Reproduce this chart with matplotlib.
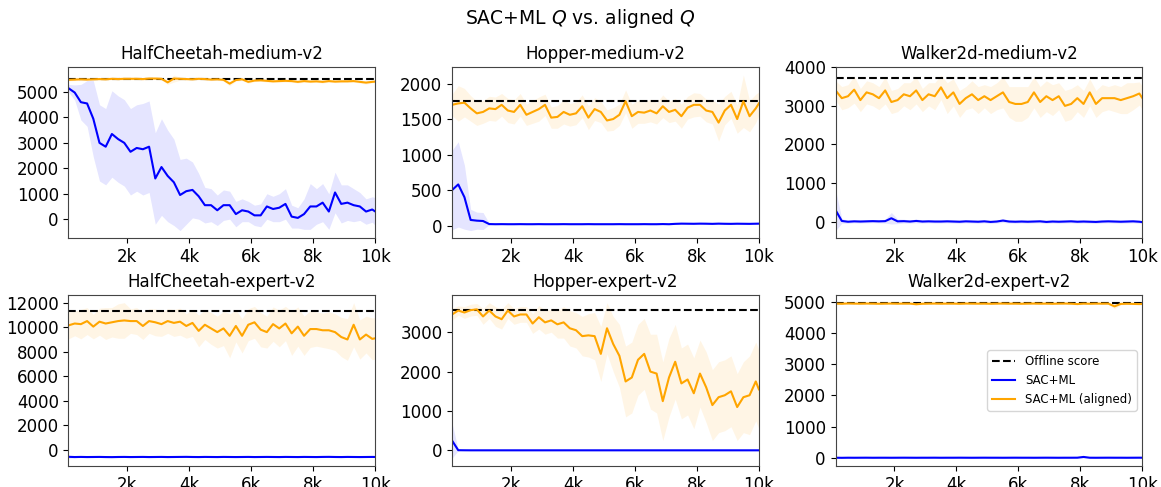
import numpy as np
import matplotlib
matplotlib.use("Agg")
import matplotlib.pyplot as plt

# evaluation steps (every 200 steps, plus the last one)
steps = np.append(np.arange(100, 10000, 200), 10000)

titles = ["HalfCheetah-medium-v2", "Hopper-medium-v2", "Walker2d-medium-v2",
          "HalfCheetah-expert-v2", "Hopper-expert-v2", "Walker2d-expert-v2"]
offline_scores = [5500, 1750, 3720, 11350, 3570, 4990]
tick_pos = [2000, 4000, 6000, 8000, 10000]
tick_labels = ["2k", "4k", "6k", "8k", "10k"]
y_ticks = [[0, 1000, 2000, 3000, 4000, 5000],
           [0, 500, 1000, 1500, 2000],
           [0, 1000, 2000, 3000, 4000],
           [0, 2000, 4000, 6000, 8000, 10000, 12000],
           [0, 1000, 2000, 3000],
           [0, 1000, 2000, 3000, 4000, 5000]]

# ---- HalfCheetah-medium ----
hcm_ml = [5150, 4980, 4600, 4550, 3950, 3000, 2850, 3350, 3150, 3000,
          2650, 2800, 2750, 2850, 1600, 2050, 1700, 1450, 950, 1100,
          1150, 900, 550, 550, 350, 550, 550, 200, 350, 300,
          150, 150, 500, 400, 450, 600, 100, 50, 200, 500,
          500, 650, 300, 1050, 600, 650, 550, 500, 300, 380, 300]
hcm_ml_std = [150, 300, 700, 900, 1500, 1500, 1500, 1700, 1700, 1700,
              1700, 1700, 1800, 1800, 1800, 1900, 1800, 1700, 1400, 1300,
              1100, 900, 700, 650, 600, 600, 550, 500, 450, 400,
              400, 450, 500, 500, 550, 600, 450, 400, 600, 900,
              700, 750, 700, 800, 750, 700, 650, 550, 500, 500, 550]
hcm_al = [5480, 5490, 5500, 5490, 5500, 5510, 5500, 5520, 5510, 5520,
          5520, 5520, 5510, 5530, 5530, 5520, 5380, 5530, 5520, 5510,
          5500, 5520, 5510, 5490, 5500, 5480, 5330, 5470, 5500, 5400,
          5450, 5460, 5440, 5420, 5430, 5440, 5430, 5400, 5430, 5410,
          5420, 5400, 5430, 5410, 5420, 5420, 5430, 5400, 5370, 5400, 5410]
hcm_al_std = [40, 40, 50, 40, 40, 50, 40, 40, 50, 40,
              40, 40, 50, 40, 40, 50, 80, 140, 60, 50,
              40, 40, 50, 40, 40, 50, 90, 40, 50, 60,
              40, 40, 50, 40, 40, 50, 40, 50, 40, 40,
              40, 50, 40, 40, 50, 40, 40, 50, 60, 40, 40]

# ---- Hopper-medium ----
hpm_ml = [500, 580, 400, 80, 70, 65, 22, 20, 21, 20,
          20, 21, 20, 20, 21, 20, 20, 20, 21, 20,
          20, 20, 21, 20, 20, 20, 20, 21, 20, 20,
          20, 21, 20, 20, 22, 20, 25, 28, 27, 26,
          28, 27, 25, 28, 26, 25, 27, 26, 25, 27, 28]
hpm_ml_std = [560, 600, 450, 150, 120, 120, 10, 6, 6, 6,
              6, 6, 6, 6, 6, 6, 6, 6, 6, 6,
              6, 6, 6, 6, 6, 6, 6, 6, 6, 6,
              6, 6, 6, 6, 6, 6, 8, 8, 8, 8,
              8, 8, 8, 8, 8, 8, 8, 8, 8, 8, 8]
hpm_al = [1700, 1720, 1730, 1650, 1580, 1600, 1650, 1640, 1700, 1620,
          1600, 1700, 1560, 1600, 1640, 1700, 1520, 1530, 1600, 1560,
          1580, 1680, 1520, 1640, 1600, 1480, 1500, 1560, 1750, 1540,
          1600, 1590, 1620, 1580, 1680, 1600, 1630, 1540, 1660, 1700,
          1700, 1620, 1600, 1450, 1620, 1700, 1500, 1750, 1540, 1650, 1720]
hpm_al_std = [150, 250, 200, 180, 170, 160, 170, 170, 160, 170,
              170, 160, 150, 160, 170, 150, 150, 160, 170, 160,
              160, 160, 170, 160, 150, 150, 160, 150, 160, 170,
              160, 150, 160, 150, 160, 150, 160, 170, 160, 170,
              160, 160, 170, 260, 200, 190, 200, 370, 220, 200, 160]

# ---- Walker2d-medium ----
wkm_ml = [300, 20, 0, 10, 5, 10, 15, 10, 15, 90,
          10, 15, 5, 20, 5, 10, 5, 5, 10, 5,
          0, 10, 5, 0, 10, -5, 5, 30, 5, 0,
          5, 0, 5, 10, -5, 5, 0, 5, 10, 0,
          5, 0, -5, 5, 10, 5, 0, 5, 10, 0, -10]
wkm_ml_std = [530, 60, 40, 40, 40, 40, 40, 40, 50, 150,
              60, 50, 40, 50, 40, 40, 40, 40, 40, 40,
              40, 40, 40, 40, 40, 40, 40, 50, 40, 40,
              40, 40, 40, 40, 40, 40, 40, 40, 40, 40,
              40, 40, 40, 40, 40, 40, 40, 40, 40, 40, 40]
wkm_al = [3400, 3200, 3250, 3420, 3150, 3350, 3300, 3200, 3400, 3100,
          3150, 3300, 3250, 3400, 3150, 3300, 3250, 3480, 3200, 3350,
          3050, 3200, 3300, 3150, 3250, 3150, 3250, 3350, 3100, 3050,
          3050, 3100, 3350, 3100, 3250, 3150, 3250, 3000, 3050, 3200,
          3050, 3350, 3050, 3200, 3200, 3200, 3150, 3200, 3250, 3320, 3200]
wkm_al_std = [250, 300, 300, 350, 300, 300, 300, 300, 350, 300,
              300, 300, 350, 350, 300, 300, 350, 320, 400, 350,
              350, 300, 350, 350, 300, 350, 350, 400, 400, 450,
              450, 400, 400, 400, 400, 400, 350, 400, 400, 350,
              350, 350, 350, 350, 300, 350, 350, 400, 350, 300, 300]

# ---- HalfCheetah-expert ----
hce_ml = [-560, -580, -570, -580, -575, -570, -580, -585, -575, -570,
          -580, -575, -570, -580, -575, -570, -580, -575, -570, -565,
          -575, -580, -570, -575, -580, -570, -575, -580, -575, -570,
          -580, -575, -570, -575, -580, -570, -575, -580, -570, -575,
          -580, -570, -565, -575, -580, -570, -575, -580, -575, -570, -575]
hce_ml_std = [120, 60, 50, 50, 50, 50, 50, 50, 50, 50,
              50, 50, 50, 50, 50, 50, 50, 50, 50, 50,
              50, 50, 50, 50, 50, 50, 50, 50, 50, 50,
              50, 50, 50, 50, 50, 50, 50, 50, 50, 50,
              50, 50, 50, 50, 50, 50, 50, 50, 50, 50, 50]
hce_al = [10150, 10300, 10250, 10500, 10050, 10450, 10300, 10400, 10500, 10550,
          10500, 10500, 10100, 10500, 10400, 10250, 10500, 10350, 10450, 10100,
          10350, 9700, 10200, 9900, 9600, 9900, 9300, 10100, 9300, 10200,
          10400, 9800, 9600, 10250, 9900, 10300, 9500, 10050, 9300, 9850,
          9850, 9750, 9750, 9600, 9200, 9000, 10200, 9000, 9400, 9050, 9100]
hce_al_std = [1100, 1000, 1200, 1100, 1000, 1100, 1300, 1200, 1400, 1450,
              1000, 1100, 1100, 1000, 1100, 1000, 1000, 1100, 1100, 1000,
              1100, 1300, 1200, 1300, 1300, 1400, 1800, 1300, 1400, 1300,
              1300, 1400, 1300, 1400, 1500, 1400, 1800, 1600, 1600, 1500,
              1400, 1400, 1500, 1500, 1600, 1700, 1800, 1600, 1500, 1700, 1700]

# ---- Hopper-expert ----
hpe_ml = [250, 5, 3, 2, 2, 2, 2, 2, 2, 2,
          2, 2, 2, 2, 2, 2, 2, 2, 2, 2,
          2, 2, 2, 2, 2, 2, 2, 2, 2, 2,
          2, 2, 2, 2, 2, 2, 2, 2, 2, 2,
          2, 2, 2, 2, 2, 2, 2, 2, 2, 2, 2]
hpe_ml_std = [450, 10, 5, 4, 4, 4, 4, 4, 4, 4,
              4, 4, 4, 4, 4, 4, 4, 4, 4, 4,
              4, 4, 4, 4, 4, 4, 4, 4, 4, 4,
              4, 4, 4, 4, 4, 4, 4, 4, 4, 4,
              4, 4, 4, 4, 4, 4, 4, 4, 4, 4, 4]
hpe_al = [3450, 3550, 3500, 3560, 3580, 3400, 3550, 3400, 3330, 3550,
          3400, 3450, 3450, 3220, 3380, 3250, 3300, 3200, 3250, 3100,
          3050, 2900, 2920, 2900, 2450, 3100, 2700, 2400, 1750, 1850,
          2300, 2450, 2000, 1950, 1250, 1850, 2250, 1700, 1800, 1450,
          1950, 1600, 1150, 1350, 1400, 1500, 1100, 1350, 1400, 1750, 1550]
hpe_al_std = [150, 120, 150, 150, 150, 200, 200, 250, 250, 200,
              200, 200, 200, 250, 300, 300, 300, 350, 400, 450,
              450, 500, 550, 600, 700, 650, 700, 800, 900, 900,
              900, 900, 950, 1000, 1000, 1000, 950, 900, 900, 900,
              850, 900, 900, 900, 900, 900, 850, 900, 1000, 1000, 1000]

# ---- Walker2d-expert ----
wke_ml = [-5, -8, -5, -6, -5, -4, -6, -5, -5, -6,
          -5, -4, -5, -6, -5, -5, -4, -6, -5, -5,
          -4, -5, -6, -5, -4, -5, -5, -6, -5, -4,
          -5, -5, -6, -5, -4, -5, -6, -5, -5, -4,
          20, -5, -6, -5, -4, -5, -5, -6, -5, -4, -5]
wke_ml_std = [15, 15, 15, 15, 15, 15, 15, 15, 15, 15,
              15, 15, 15, 15, 15, 15, 15, 15, 15, 15,
              15, 15, 15, 15, 15, 15, 15, 15, 15, 15,
              15, 15, 15, 15, 15, 15, 15, 15, 15, 15,
              30, 15, 15, 15, 15, 15, 15, 15, 15, 15, 15]
wke_al = [4960, 4955, 4965, 4960, 4958, 4962, 4960, 4955, 4960, 4962,
          4958, 4960, 4960, 4940, 4955, 4960, 4962, 4958, 4960, 4960,
          4955, 4962, 4960, 4958, 4960, 4955, 4960, 4962, 4958, 4960,
          4955, 4960, 4962, 4958, 4960, 4955, 4960, 4962, 4958, 4945,
          4960, 4955, 4960, 4958, 4960, 4870, 4950, 4955, 4950, 4945, 4950]
wke_al_std = [25, 25, 25, 25, 25, 25, 25, 25, 25, 25,
              25, 25, 25, 30, 25, 25, 25, 25, 25, 25,
              25, 25, 25, 25, 25, 25, 25, 25, 25, 25,
              25, 25, 25, 25, 25, 25, 25, 25, 25, 30,
              25, 25, 25, 25, 25, 80, 30, 25, 25, 25, 25]

ml_runs = [(hcm_ml, hcm_ml_std), (hpm_ml, hpm_ml_std), (wkm_ml, wkm_ml_std),
           (hce_ml, hce_ml_std), (hpe_ml, hpe_ml_std), (wke_ml, wke_ml_std)]
al_runs = [(hcm_al, hcm_al_std), (hpm_al, hpm_al_std), (wkm_al, wkm_al_std),
           (hce_al, hce_al_std), (hpe_al, hpe_al_std), (wke_al, wke_al_std)]

fig, axes = plt.subplots(2, 3, figsize=(11.61, 4.87), dpi=100)
fig.subplots_adjust(left=0.059, right=0.984, bottom=0.043, top=0.862,
                    wspace=0.25, hspace=0.33)

for i, ax in enumerate(axes.flat):
    m, s = np.array(ml_runs[i][0]), np.array(ml_runs[i][1])
    a, sa = np.array(al_runs[i][0]), np.array(al_runs[i][1])

    ax.fill_between(steps, m - s, m + s, color="blue", alpha=0.1, linewidth=0)
    ax.fill_between(steps, a - sa, a + sa, color="orange", alpha=0.1, linewidth=0)
    ax.axhline(offline_scores[i], color="black", linestyle="--", linewidth=1.5,
               label="Offline score")
    ax.plot(steps, m, color="blue", linewidth=1.5, label="SAC+ML")
    ax.plot(steps, a, color="orange", linewidth=1.5, label="SAC+ML (aligned)")

    ax.set_title(titles[i], fontsize=12)
    ax.set_xlim(100, 10000)
    ax.set_xticks(tick_pos)
    ax.set_xticklabels(tick_labels)
    ax.set_yticks(y_ticks[i])
    ax.tick_params(labelsize=12)
    for sp in ax.spines.values():
        sp.set_color("#444444")

axes[1, 2].legend(loc="center right", fontsize=8.5)

fig.suptitle("SAC+ML $Q$ vs. aligned $Q$", fontsize=13.5, y=0.985)

plt.savefig("out.png", dpi=100)
